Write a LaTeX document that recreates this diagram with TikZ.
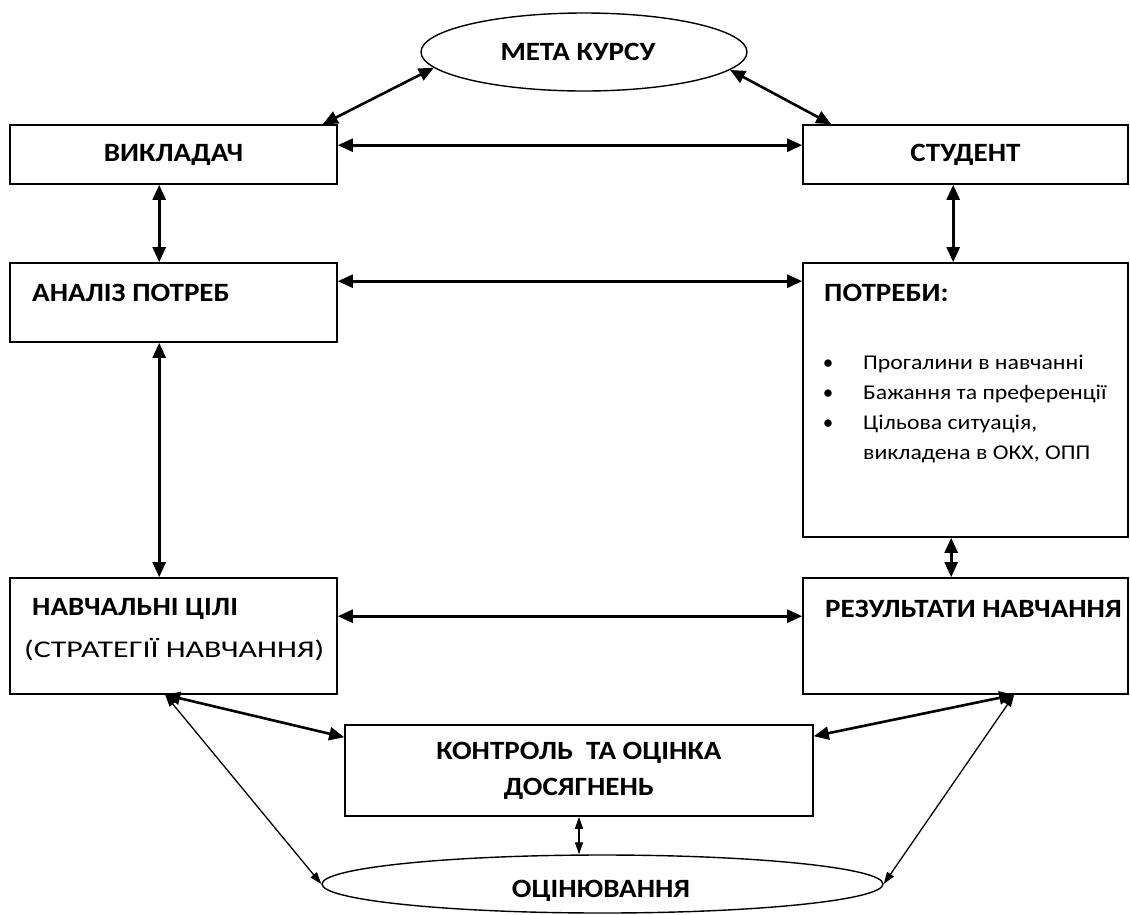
\documentclass[tikz,border=0pt]{standalone}
\usepackage{fontspec}
\setmainfont{Carlito}
\newfontfamily\bldfam{Carlito}[FakeStretch=1.1]
\newfontfamily\regfam{Carlito}[FakeStretch=1.33]
\newfontfamily\smlfam{Carlito}[FakeStretch=1.13]
\usetikzlibrary{arrows.meta,shapes.geometric,calc}
\begin{document}
\begin{tikzpicture}[x=1pt,y=-1pt,
 box/.style={draw, line width=1.6pt, rectangle, inner sep=0pt},
 oval/.style={draw, line width=1.4pt, ellipse, inner sep=0pt},
 lbl/.style={font=\bldfam\bfseries\fontsize{26.4}{36}\selectfont, inner sep=0pt},
 reg/.style={font=\regfam\fontsize{24}{30}\selectfont, inner sep=0pt},
 small/.style={font=\smlfam\fontsize{21}{30}\selectfont, inner sep=0pt, anchor=base west},
 bul/.style={font=\fontsize{21}{30}\selectfont, inner sep=0pt, anchor=base},
 big/.style={line width=2.6pt, {Triangle[length=15pt,width=13pt]}-{Triangle[length=15pt,width=13pt]}},
 thinarr/.style={line width=1.3pt, {Triangle[length=12pt,width=8pt]}-{Triangle[length=12pt,width=8pt]}},
]
\useasboundingbox (0,0) rectangle (1130,914);
% shapes
\node[oval, minimum width=326pt, minimum height=78pt] (meta) at (584,52) {};
\node[box, minimum width=327pt, minimum height=59pt, lbl] (vik) at (173.5,154.5) {ВИКЛАДАЧ};
\node[box, minimum width=325pt, minimum height=59pt, lbl] (stud) at (965.5,154.5) {СТУДЕНТ};
\node[box, minimum width=327pt, minimum height=79pt] (an) at (173.5,302.5) {};
\node[box, minimum width=325pt, minimum height=274pt] (pot) at (965.5,400) {};
\node[box, minimum width=327pt, minimum height=116pt] (cil) at (173.5,636) {};
\node[box, minimum width=325pt, minimum height=116pt] (rez) at (965.5,636) {};
\node[box, minimum width=468pt, minimum height=91pt, lbl, align=center] (kon) at (579,770.5) {КОНТРОЛЬ \ ТА ОЦІНКА\\ДОСЯГНЕНЬ};
\node[oval, minimum width=561pt, minimum height=58pt] (oc) at (602.5,884) {};
% texts
\node[lbl] (metatx) at (578,52) {МЕТА КУРСУ};
\node[lbl, anchor=west] (antx) at (32,293) {АНАЛІЗ ПОТРЕБ};
\node[lbl, anchor=west] (pottx) at (824,293) {ПОТРЕБИ:};
\node[small] (p1) at (863,369) {Прогалини в навчанні};
\node[small] (p2) at (863,399) {Бажання та преференції};
\node[small] (p3) at (863,429) {Цільова ситуація,};
\node[small] (p4) at (863,459) {викладена в ОКХ, ОПП};
\node[bul] (b1) at (828,369) {•};
\node[bul] (b2) at (828,399) {•};
\node[bul] (b3) at (828,429) {•};
\node[lbl, anchor=west] (ciltx) at (32,609) {НАВЧАЛЬНІ ЦІЛІ};
\node[reg, anchor=west] (stx) at (24,650) {(СТРАТЕГІЇ НАВЧАННЯ)};
\node[lbl, anchor=west] (reztx) at (825,609) {РЕЗУЛЬТАТИ НАВЧАННЯ};
\node[lbl] (octx) at (601,891) {ОЦІНЮВАННЯ};
% connectors
\draw[big] ([xshift=-15pt]vik.north east) -- (meta.186);
\draw[big] (meta.353) -- ([xshift=29pt]stud.north west);
\draw[big] ([yshift=-21pt]vik.north east) -- ([yshift=-21pt]stud.north west);
\draw[big] ([xshift=150pt]vik.south west) -- ([xshift=150pt]an.north west);
\draw[big] ([xshift=151pt]stud.south west) -- ([xshift=151pt]pot.north west);
\draw[big] ([yshift=-19pt]an.north east) -- ([yshift=-19pt]pot.north west);
\draw[big] ([xshift=150pt]an.south west) -- ([xshift=150pt]cil.north west);
\draw[big] ([xshift=149pt]pot.south west) -- ([xshift=149pt]rez.north west);
\draw[big] ([yshift=-39pt]cil.north east) -- ([yshift=-39pt]rez.north west);
\draw[big] ([xshift=156pt]cil.south west) -- ([yshift=-13pt]kon.north west);
\draw[big] ([xshift=212pt]rez.south west) -- ([yshift=-12pt]kon.north east);
\draw[thinarr] (kon.south) -- (kon.south |- oc.north);
\draw[thinarr] ([xshift=156pt]cil.south west) -- (oc.west);
\draw[thinarr] ([xshift=212pt]rez.south west) -- (oc.east);
\end{tikzpicture}
\end{document}
